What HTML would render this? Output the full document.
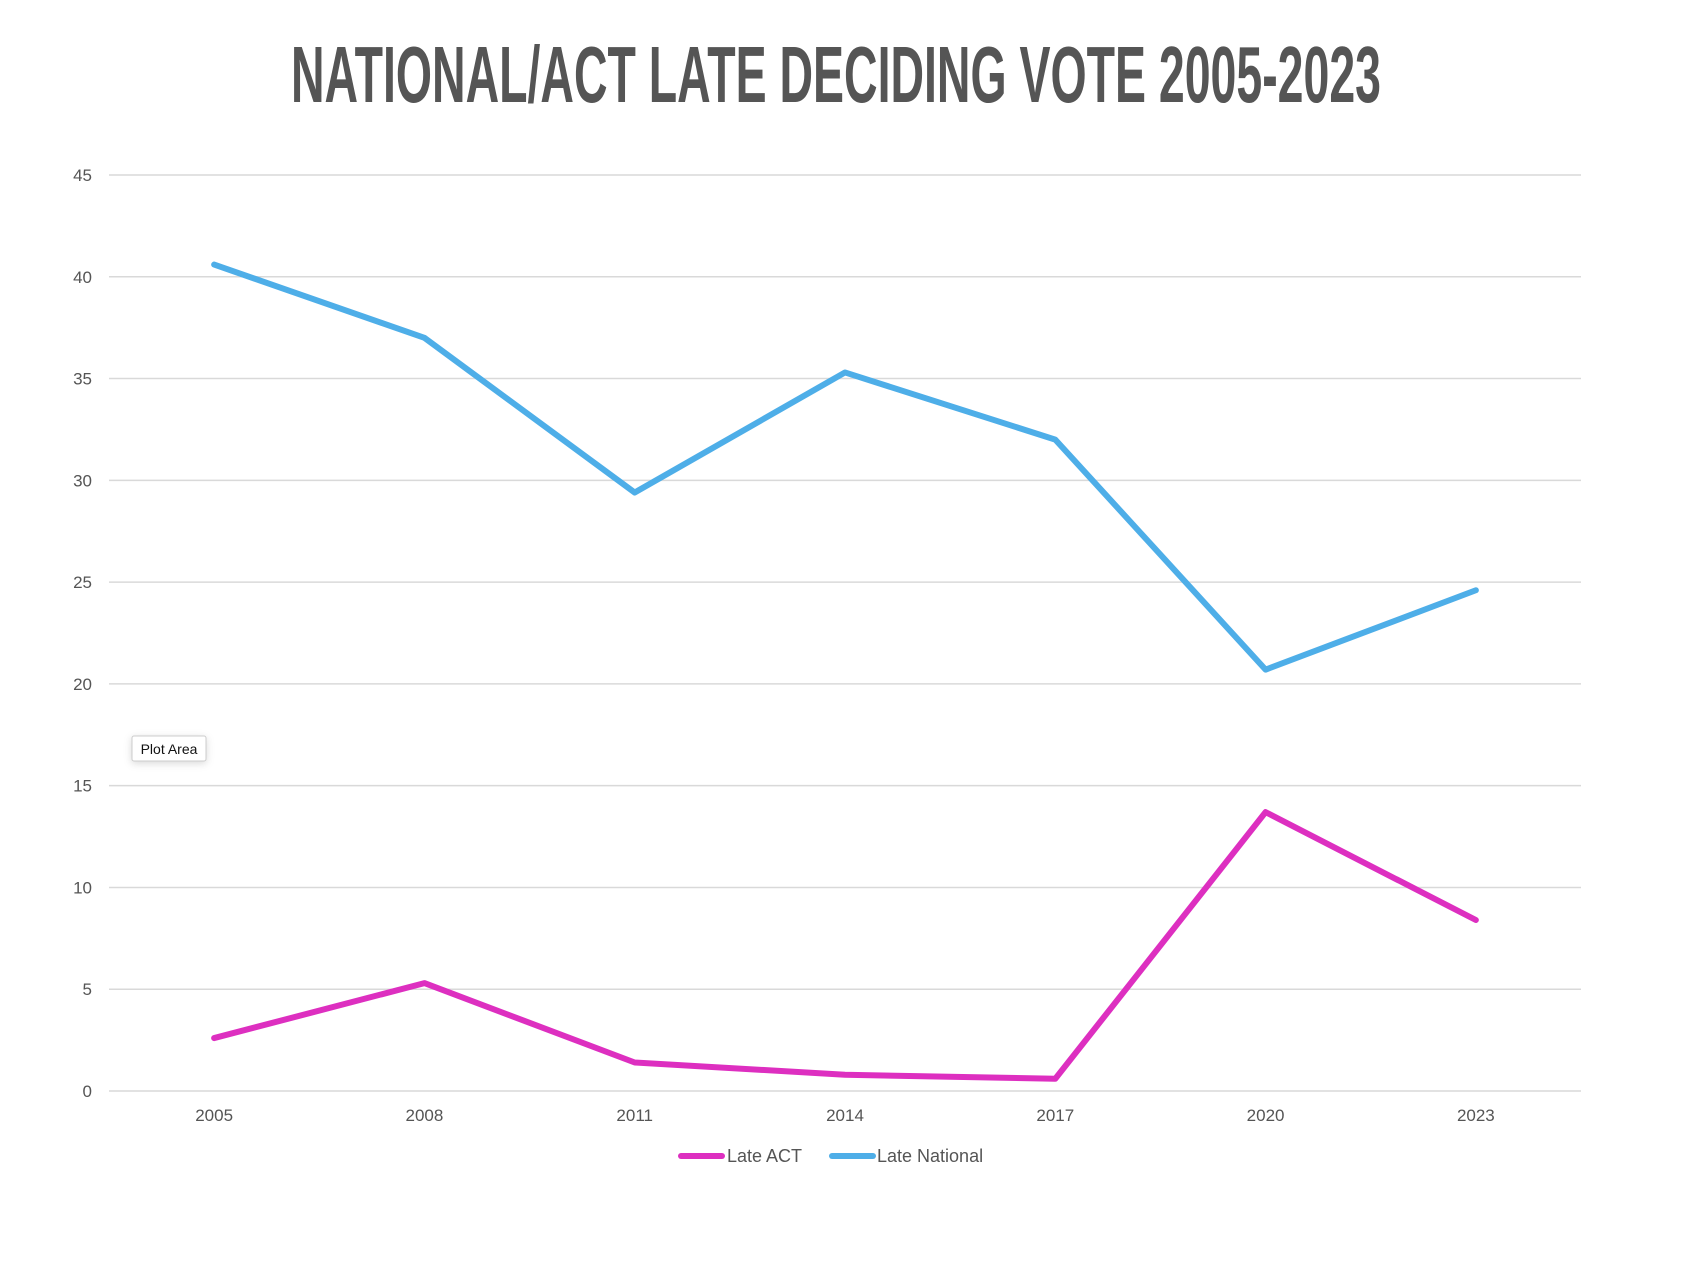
<!DOCTYPE html>
<html><head><meta charset="utf-8"><style>
html,body{margin:0;padding:0;background:#fff;}
svg{display:block;}
</style></head><body>
<svg id="chart" width="1686" height="1280" xmlns="http://www.w3.org/2000/svg" font-family="Liberation Sans, sans-serif">
<text x="291" y="102" font-family="Liberation Sans Narrow, Liberation Sans, sans-serif" font-weight="bold" font-size="80" fill="#555" textLength="1090" lengthAdjust="spacingAndGlyphs">NATIONAL/ACT LATE DECIDING VOTE 2005-2023</text>
<g id="grid"></g><g id="yticks"></g><g id="xticks"></g><g id="series"></g>
<g>
<rect x="132" y="736" width="74" height="25" fill="#fff" stroke="#ccc" rx="2" style="filter:drop-shadow(0 2px 4px rgba(0,0,0,0.15))"/>
<text x="169" y="754" font-size="14" text-anchor="middle" fill="#111">Plot Area</text>
</g>
<g>
<g>
<line x1="681" y1="1156" x2="722" y2="1156" stroke="#dd2fc0" stroke-width="6" stroke-linecap="round"/>
<text x="727" y="1162" font-size="18" fill="#555">Late ACT</text></g>
<g>
<line x1="832" y1="1156" x2="873" y2="1156" stroke="#4eaee8" stroke-width="6" stroke-linecap="round"/>
<text x="877" y="1162" font-size="18" fill="#555">Late National</text></g>
</g>
</svg>
<script>
const categories = ["2005","2008","2011","2014","2017","2020","2023"];
const lateACT = [2.6, 5.3, 1.4, 0.8, 0.6, 13.7, 8.4];
const lateNational = [40.6, 37.0, 29.4, 35.3, 32.0, 20.7, 24.6];
const yTicks = [0,5,10,15,20,25,30,35,40,45];
const NS="http://www.w3.org/2000/svg";
const L=109,R=1581,T=175,B=1091,yMax=45;
const y=v=>B-(v/yMax)*(B-T);
const bw=(R-L)/categories.length;
const x=i=>L+bw*(i+0.5);
function mk(tag,attrs,parent){const e=document.createElementNS(NS,tag);for(const k in attrs)e.setAttribute(k,attrs[k]);parent.appendChild(e);return e;}
const grid=document.getElementById('grid'),yt=document.getElementById('yticks'),xt=document.getElementById('xticks'),se=document.getElementById('series');
yTicks.forEach(v=>{
 const g=mk('line',{x1:L,x2:R,y1:y(v),y2:y(v),stroke:'#d9d9d9','stroke-width':1.5},grid);
 
 
 const t=mk('text',{x:92,y:y(v)+6,'font-size':17,'text-anchor':'end',fill:'#555'},yt);
 t.textContent=v;
 
 
});
categories.forEach((c,i)=>{
 const t=mk('text',{x:x(i),y:1121,'font-size':17,'text-anchor':'middle',fill:'#555'},xt);
 t.textContent=c;
 
 
});
function line(vals,color,name){
 const p=mk('polyline',{points:vals.map((v,i)=>x(i)+','+y(v)).join(' '),fill:'none',stroke:color,'stroke-width':6,'stroke-linejoin':'round','stroke-linecap':'round'},se);
 
 
}
line(lateNational,'#4eaee8','late-national-line');
line(lateACT,'#dd2fc0','late-act-line');
</script>
</body></html>
